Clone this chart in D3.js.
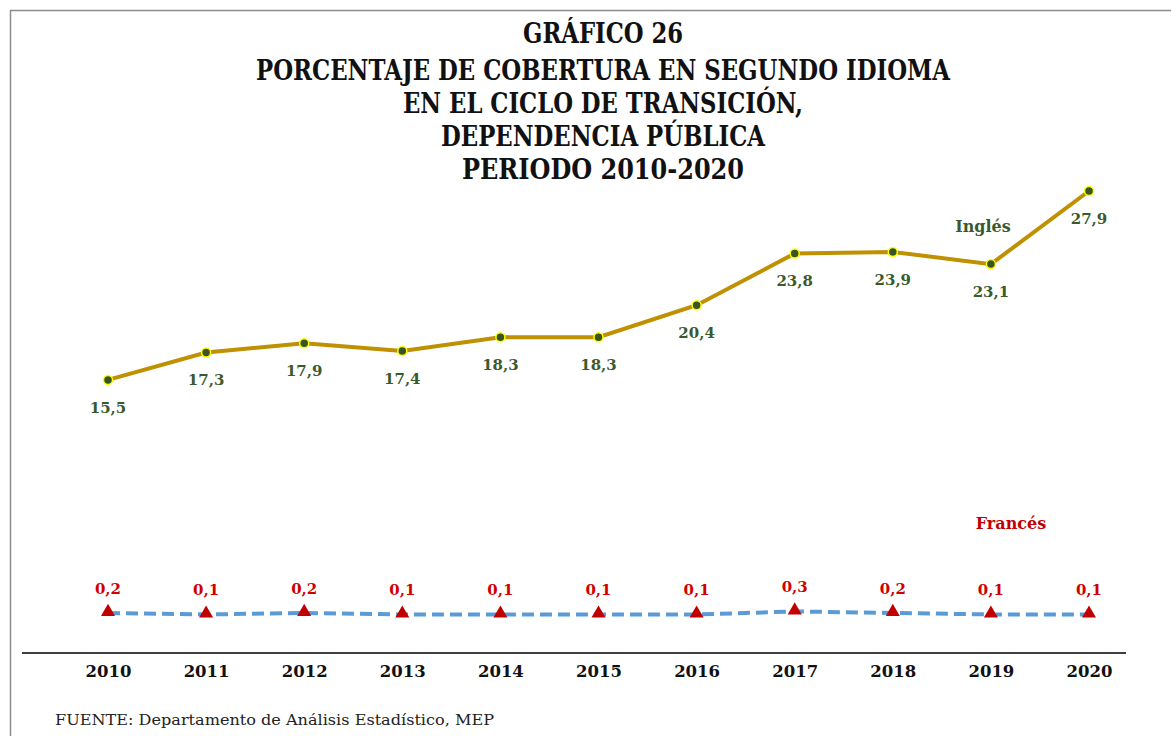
<!DOCTYPE html>
<html>
<head>
<meta charset="utf-8">
<script src="https://cdn.jsdelivr.net/npm/d3@7"></script>
<style>
  body { margin: 0; background: #fff; }
  svg { display: block; }
</style>
</head>
<body>
<div id="chart"></div>
<script>
// Cobertura segundo idioma, ciclo de transición, dependencia pública

const years = ['2010', '2011', '2012', '2013', '2014', '2015', '2016', '2017', '2018', '2019', '2020'];
const ingles = [15.5, 17.3, 17.9, 17.4, 18.3, 18.3, 20.4, 23.8, 23.9, 23.1, 27.9];
const frances = [0.2, 0.1, 0.2, 0.1, 0.1, 0.1, 0.1, 0.3, 0.2, 0.1, 0.1];
const titleLines = [
    'GRÁFICO 26',
    'PORCENTAJE DE COBERTURA EN SEGUNDO IDIOMA',
    'EN EL CICLO DE TRANSICIÓN,',
    'DEPENDENCIA PÚBLICA',
    'PERIODO 2010-2020'
];
const titleWidths = [160, 694, 400, 324, 282];
const titleBase = [43, 80, 113, 146, 179];
const fuente = 'FUENTE: Departamento de Análisis Estadístico, MEP';

const W = 1171, H = 736;
const fmt = v => v.toFixed(1).replace('.', ',');

const svg = d3.select('#chart').append('svg')
    .attr('width', W)
    .attr('height', H);

// marco gris
svg.append('path')
    .attr('d', `M10.5,${H} V10.5 H${W}`)
    .attr('fill', 'none')
    .attr('stroke', '#8c8c8c')
    .attr('stroke-width', 1.5);

// títulos
const serif = "'DejaVu Serif', serif";
svg.append('g').selectAll('text')
    .data(titleLines)
    .join('text')
    .attr('x', 603)
    .attr('y', (d, i) => titleBase[i])
    .attr('text-anchor', 'middle')
    .attr('font-family', serif)
    .attr('font-weight', 'bold')
    .attr('font-size', 27)
    .attr('textLength', (d, i) => titleWidths[i])
    .attr('lengthAdjust', 'spacingAndGlyphs')
    .attr('fill', '#111')
    .text(d => d);

// escalas
const x = d3.scalePoint()
    .domain(years)
    .range([108, 1089]);
const y = d3.scaleLinear()
    .domain([0, 27.9])
    .range([616, 191]);

// eje x
const axis = svg.append('g')
    .attr('transform', 'translate(0,653)')
    .call(d3.axisBottom(x).tickSize(0).tickPadding(12));
axis.select('.domain').remove();
axis.append('line')
    .attr('x1', 22).attr('x2', 1126)
    .attr('stroke', '#3f3f3f')
    .attr('stroke-width', 2);
axis.selectAll('.tick text')
    .attr('font-family', serif)
    .attr('font-weight', 'bold')
    .attr('font-size', 16.5)
    .attr('fill', '#111');

// Francés: línea discontinua
svg.append('path')
    .datum(frances)
    .attr('d', d3.line().x((d, i) => x(years[i])).y(d => y(d)))
    .attr('fill', 'none')
    .attr('stroke', '#5b9bd5')
    .attr('stroke-width', 4)
    .attr('stroke-dasharray', '12,6');

svg.append('g').selectAll('path')
    .data(frances)
    .join('path')
    .attr('transform', (d, i) => `translate(${x(years[i])},${y(d) - 1})`)
    .attr('d', d3.symbol(d3.symbolTriangle, 85))
    .attr('fill', '#c00000');

svg.append('g').selectAll('text')
    .data(frances)
    .join('text')
    .attr('x', (d, i) => x(years[i]))
    .attr('y', d => y(d) - 19)
    .attr('text-anchor', 'middle')
    .attr('font-family', serif)
    .attr('font-weight', 'bold')
    .attr('font-size', 15)
    .attr('fill', '#d00000')
    .text(fmt);

// Inglés
svg.append('path')
    .datum(ingles)
    .attr('d', d3.line().x((d, i) => x(years[i])).y(d => y(d)))
    .attr('fill', 'none')
    .attr('stroke', '#bf9000')
    .attr('stroke-width', 4);

svg.append('g').selectAll('circle')
    .data(ingles)
    .join('circle')
    .attr('cx', (d, i) => x(years[i]))
    .attr('cy', d => y(d))
    .attr('r', 4.5)
    .attr('fill', '#375623')
    .attr('stroke', '#ffff00')
    .attr('stroke-width', 1.5);

svg.append('g').selectAll('text')
    .data(ingles)
    .join('text')
    .attr('x', (d, i) => x(years[i]))
    .attr('y', d => y(d) + 33)
    .attr('text-anchor', 'middle')
    .attr('font-family', serif)
    .attr('font-weight', 'bold')
    .attr('font-size', 15)
    .attr('fill', '#3a5a2c')
    .text(fmt);

// nombres de serie
svg.append('text')
    .attr('x', 983).attr('y', 232)
    .attr('text-anchor', 'middle')
    .attr('font-family', serif)
    .attr('font-weight', 'bold')
    .attr('font-size', 16)
    .attr('fill', '#3a5a2c')
    .text('Inglés');

svg.append('text')
    .attr('x', 1011).attr('y', 529)
    .attr('text-anchor', 'middle')
    .attr('font-family', serif)
    .attr('font-weight', 'bold')
    .attr('font-size', 16)
    .attr('fill', '#c00000')
    .text('Francés');

// fuente
svg.append('text')
    .attr('x', 55).attr('y', 725)
    .attr('font-family', serif)
    .attr('font-size', 14)
    .attr('textLength', 439)
    .attr('lengthAdjust', 'spacingAndGlyphs')
    .attr('fill', '#222')
    .text(fuente);
</script>
</body>
</html>
